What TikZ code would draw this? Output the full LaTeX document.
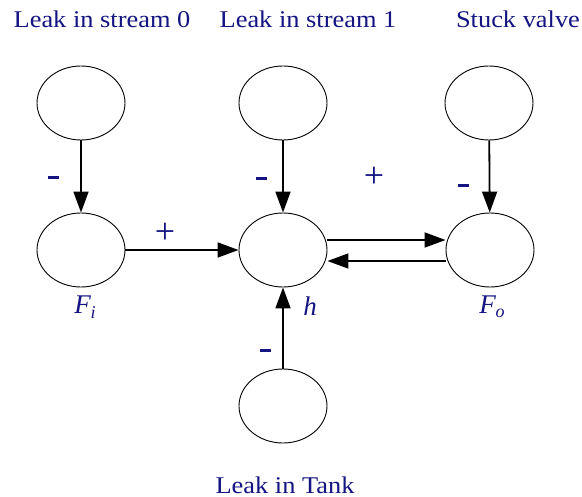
\documentclass[tikz,border=0pt]{standalone}
\usepackage{fontspec}
\setmainfont{Liberation Serif}
\usetikzlibrary{shapes.geometric,arrows.meta}
\definecolor{navy}{RGB}{20,20,130}
\newcommand{\wide}[1]{\scalebox{1.1}[1]{#1}}
\begin{document}
\begin{tikzpicture}[x=1pt,y=-1pt,
  ell/.style={ellipse,draw,line width=0.9pt,minimum width=88pt,minimum height=74pt,inner sep=0pt},
  arr/.style={line width=1.8pt,-{Triangle[length=21pt,width=15pt]}},
  lab/.style={text=navy,font=\rmfamily\fontsize{24}{28}\selectfont,inner sep=0pt},
  var/.style={text=navy,font=\rmfamily\fontsize{27}{30}\selectfont\itshape,inner sep=0pt},
  sgn/.style={text=navy,font=\rmfamily\fontsize{36}{38}\selectfont,inner sep=0pt},
  dsh/.style={fill=navy,minimum width=11pt,minimum height=3pt,inner sep=0pt}]
\useasboundingbox (0,0) rectangle (582,497);
\fill[white] (0,0) rectangle (582,497);
% ellipses
\node[ell] (t0) at (81,103) {};
\node[ell] (t1) at (283,103) {};
\node[ell] (t2) at (489,103) {};
\node[ell] (fi) at (81,250) {};
\node[ell] (h) at (283,250) {};
\node[ell] (fo) at (490,250) {};
\node[ell] (lt) at (283,406) {};
% labels
\node[lab] (l0) at (102,19) {\wide{Leak in stream 0}};
\node[lab] (l1) at (308,19) {\wide{Leak in stream 1}};
\node[lab] (l2) at (518,19) {\wide{Stuck valve}};
\node[lab] (l3) at (285,485) {\wide{Leak in Tank}};
\node[var] (vfi) at (85,307) {F\raisebox{-0.35ex}{\fontsize{18}{18}\selectfont i}};
\node[var] (vh) at (310,306) {h};
\node[var] (vfo) at (492,307) {F\raisebox{-0.35ex}{\fontsize{18}{18}\selectfont o}};
% signs
\node[dsh] (s1) at (53,178) {};
\node[sgn] (s2) at (165,233) {+};
\node[dsh] (s3) at (261,179) {};
\node[sgn] (s4) at (374,177) {+};
\node[dsh] (s5) at (463,186) {};
\node[dsh] (s6) at (265,351) {};
% arrows
\draw[arr] (t0) -- (fi);
\draw[arr] (t1) -- (h);
\draw[arr] (t2) -- (fo);
\draw[arr] (fi) -- (h);
\draw[arr] ([yshift=10pt]h.east) -- ([yshift=10pt]fo.west);
\draw[arr] ([yshift=-11pt]fo.west) -- ([yshift=-11pt]h.east);
\draw[arr] (lt) -- (h);
\end{tikzpicture}
\end{document}
